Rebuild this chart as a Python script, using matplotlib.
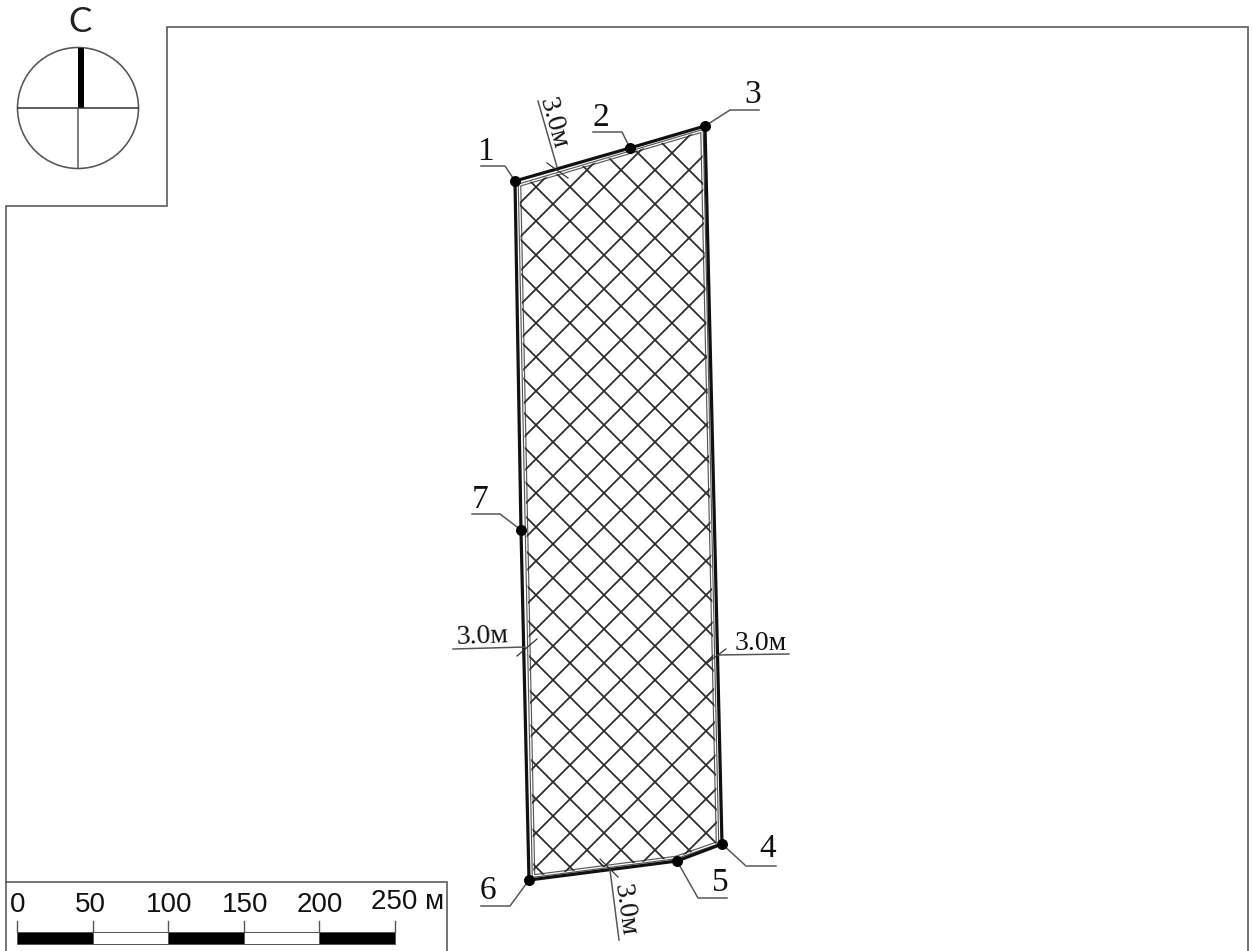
import numpy as np
import matplotlib
matplotlib.use("Agg")
import matplotlib.pyplot as plt
from matplotlib.patches import Polygon, Circle, Rectangle

# Plot outline (outer boundary) and numbered points
point_names = ["1", "2", "3", "4", "5", "6", "7"]
point_x = [515, 630, 705, 722, 677, 529, 521]
point_y = [181, 148, 126, 844, 861, 880, 530]
# Inner buffer outline
inner_x = [519.5, 702, 717.5, 676, 533.5]
inner_y = [185, 131, 843, 857.5, 876]
# Leader lines for point labels
label_x = [485, 601, 752.5, 768, 720, 488, 480]
label_y = [152, 118, 95, 849, 883, 891, 500]
shelf_far_x = [481, 593, 759, 776, 727, 481, 472]
shelf_near_x = [505, 622, 730, 746, 698, 510, 500]
shelf_y = [166, 132, 110, 866, 898, 906, 514]
# Buffer width annotations
width_text = "3.0м"
width_tx = [553, 625, 482, 761]
width_ty = [123, 910, 637, 644]
width_rot = [-74, -82, 2, 0]
width_line_x = [(538, 557), (610, 619), (453, 525), (789, 717)]
width_line_y = [(101, 167), (870, 940), (649, 647), (654, 655)]
width_tick_x = [(547, 568), (600, 618), (517, 537), (707, 726)]
width_tick_y = [(163, 178), (859, 877), (656, 639), (663, 649)]
# Scale bar
scale_values = [0, 50, 100, 150, 200, 250]
scale_labels = ["0", "50", "100", "150", "200", "250 м"]
scale_label_x = [18, 90, 169, 245, 320, 408]
scale_label_y = [905, 905, 905, 905, 905, 902]
# Frame
frame_x = [6, 6, 167, 167, 1248, 1248]
frame_y = [951, 206, 206, 27, 27, 951]
box_x = [6, 447, 447]
box_y = [882, 882, 951]

W, H = 1252, 951
px = 0.72
fig = plt.figure(figsize=(W / 100, H / 100), dpi=100, facecolor="white")
ax = fig.add_axes([0, 0, 1, 1])
ax.set_xlim(0, W)
ax.set_ylim(H, 0)
ax.axis("off")

GREY = "#555555"
DARK = "#2e2e2e"
serif = "Liberation Serif"

# Frame
ax.plot(frame_x, frame_y, color=GREY, lw=1.6 * px, solid_joinstyle="miter")
ax.plot(box_x, box_y, color=GREY, lw=1.6 * px, solid_joinstyle="miter")

# Buffer double line
ix = inner_x + inner_x[:1]
iy = inner_y + inner_y[:1]
ax.plot(ix, iy, color="#555555", lw=3.6 * px, solid_joinstyle="miter")
ax.plot(ix, iy, color="white", lw=1.3 * px, solid_joinstyle="miter")

# Hatch clipped to the inner outline
inner = Polygon(np.column_stack([inner_x, inner_y]), closed=True, fc="none", ec="none")
ax.add_patch(inner)
for c in np.arange(1097 - 34 * 12, 1097 + 34 * 14, 34):
    ln, = ax.plot([c - 100, c - 1000], [100, 1000], color=DARK, lw=1.8 * px)
    ln.set_clip_path(inner)
for c in np.arange(77 - 34 * 28, 77 + 34 * 14, 34):
    ln, = ax.plot([c + 100, c + 1000], [100, 1000], color=DARK, lw=1.8 * px)
    ln.set_clip_path(inner)

# Outer boundary
ox = point_x + point_x[:1]
oy = point_y + point_y[:1]
ax.plot(ox, oy, color="#111111", lw=3.2 * px, solid_joinstyle="round")
ax.scatter(point_x, point_y, s=(11 * px) ** 2, color="black", zorder=5, linewidths=0)

# Point labels and leaders
for i, name in enumerate(point_names):
    ax.plot([shelf_far_x[i], shelf_near_x[i], point_x[i]],
            [shelf_y[i], shelf_y[i], point_y[i]], color=GREY, lw=1.5 * px)
    ax.text(label_x[i], label_y[i], name, family=serif, fontsize=24,
            ha="center", va="center", color="#111111")

# Buffer width annotations
for i in range(4):
    ax.plot(width_line_x[i], width_line_y[i], color=GREY, lw=1.5 * px)
    ax.plot(width_tick_x[i], width_tick_y[i], color=DARK, lw=1.2 * px)
    ax.text(width_tx[i], width_ty[i], width_text, family=serif, fontsize=20,
            rotation=width_rot[i], rotation_mode="anchor",
            ha="center", va="center", color="#111111")

# North arrow
ax.add_patch(Circle((78, 108), 60.5, fc="none", ec=GREY, lw=1.6 * px))
ax.plot([18, 138], [108, 108], color=DARK, lw=1.5 * px)
ax.plot([78, 78], [108, 168], color=GREY, lw=1.5 * px)
ax.add_patch(Rectangle((77.5, 48), 6, 60, fc="black", ec="none"))
ax.text(80, 22, "С", family="Lato", fontsize=25, fontweight="normal",
        ha="center", va="center", color="#222222")

# Scale bar
x0, k = 17, 378 / 250
scale_px = [x0 + v * k for v in scale_values]
for j in range(len(scale_values) - 1):
    ax.add_patch(Rectangle((scale_px[j], 932), scale_px[j + 1] - scale_px[j], 12,
                           fc="black" if j % 2 == 0 else "white", ec=GREY, lw=1 * px))
for xp in scale_px:
    ax.plot([xp, xp], [921, 932], color=GREY, lw=1.4 * px)
for xl, yl, s in zip(scale_label_x, scale_label_y, scale_labels):
    ax.text(xl, yl, s, family="Liberation Sans", fontsize=20,
            ha="center", va="center", color="#111111")

fig.savefig("out.png", dpi=100, facecolor="white")
